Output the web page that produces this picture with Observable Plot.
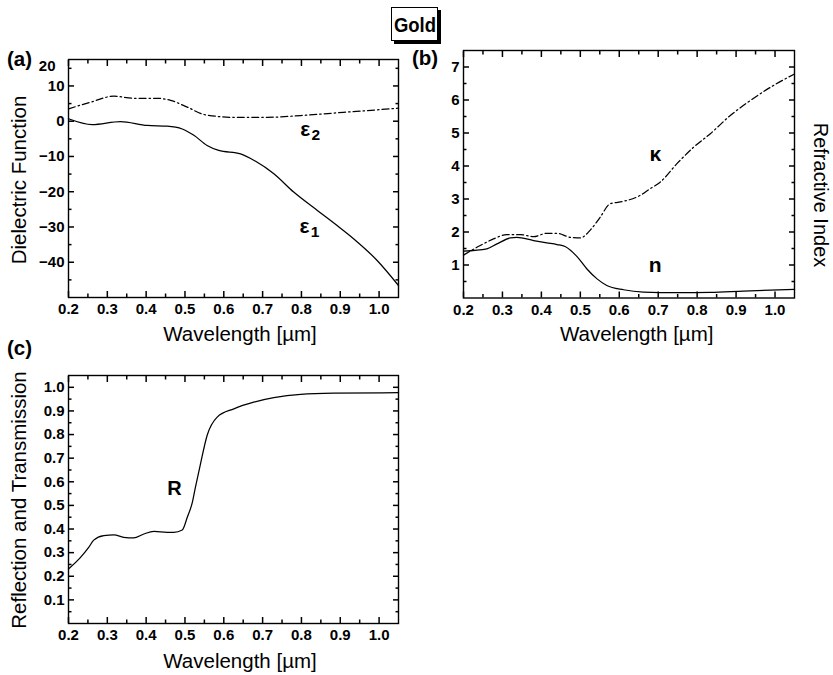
<!DOCTYPE html>
<html><head><meta charset="utf-8">
<script src="https://cdn.jsdelivr.net/npm/d3@7"></script>
<script src="https://cdn.jsdelivr.net/npm/@observablehq/plot@0.6"></script>
<style>
body{margin:0;background:#fff;}
#wrap{position:relative;width:833px;height:675px;overflow:hidden;background:#fff;font-family:"Liberation Sans",Arial,Helvetica,sans-serif;color:#000;}
#wrap svg{position:absolute;}
.lbl{position:absolute;white-space:nowrap;line-height:1;}
</style></head><body><div id="wrap"></div>
<script>
// ---------- texts ----------
const title = "Gold";
const xLabel = "Wavelength [µm]";
const yLabelA = "Dielectric Function";
const yLabelB = "Refractive Index";
const yLabelC = "Reflection and Transmission";
const panelLetters = ["(a)", "(b)", "(c)"];

// ---------- ticks ----------
const wlDomain = [0.2, 1.05];
const wlTicks = [0.2, 0.3, 0.4, 0.5, 0.6, 0.7, 0.8, 0.9, 1.0];
const wlMinor = [0.25, 0.35, 0.45, 0.55, 0.65, 0.75, 0.85, 0.95];
const epsDomain = [-50, 17.5];
const epsTicks = [-40, -30, -20, -10, 0, 10];
const epsMinor = [-45, -35, -25, -15, -5, 5, 15];
const epsTopLabel = "20";
const nkDomain = [0, 7.5];
const nkTicks = [1, 2, 3, 4, 5, 6, 7];
const nkMinor = [0.5, 1.5, 2.5, 3.5, 4.5, 5.5, 6.5];
const rDomain = [0, 1.05];
const rTicks = [0.1, 0.2, 0.3, 0.4, 0.5, 0.6, 0.7, 0.8, 0.9, 1.0];
const rMinor = [0.05, 0.15, 0.25, 0.35, 0.45, 0.55, 0.65, 0.75, 0.85, 0.95];

// ---------- data: [wavelength µm, value] ----------
const eps1 = [[0.2,0.7],[0.261,-0.95],[0.334,-0.1],[0.403,-1.2],[0.454,-1.4],[0.493,-2.2],[0.523,-4.0],[0.557,-6.9],[0.587,-8.3],[0.643,-9.25],[0.681,-11.3],[0.729,-14.9],[0.780,-20.1],[0.841,-25.3],[0.892,-29.6],[0.935,-33.4],[0.995,-39.5],[1.05,-46.6]];
const eps2 = [[0.2,3.5],[0.257,5.4],[0.317,7.1],[0.368,6.5],[0.428,6.5],[0.463,5.9],[0.506,4.0],[0.549,1.9],[0.626,1.1],[0.712,1.1],[0.798,1.6],[0.883,2.3],[0.969,3.0],[1.05,3.7]];
const nIdx = [[0.2,1.42],[0.26,1.49],[0.286,1.64],[0.32,1.82],[0.337,1.84],[0.38,1.74],[0.414,1.67],[0.44,1.62],[0.461,1.56],[0.491,1.26],[0.517,0.88],[0.543,0.58],[0.568,0.38],[0.611,0.25],[0.662,0.18],[0.748,0.16],[0.834,0.17],[0.919,0.21],[1.05,0.26]];
const kIdx = [[0.2,1.3],[0.243,1.59],[0.277,1.79],[0.311,1.92],[0.346,1.92],[0.38,1.86],[0.414,1.96],[0.44,1.96],[0.474,1.84],[0.5,1.82],[0.525,2.05],[0.551,2.45],[0.576,2.85],[0.611,2.93],[0.654,3.11],[0.679,3.31],[0.705,3.51],[0.748,4.07],[0.791,4.57],[0.834,4.98],[0.885,5.53],[0.936,5.98],[0.996,6.44],[1.05,6.79]];
const refl = [[0.2,0.231],[0.231,0.28],[0.252,0.322],[0.265,0.353],[0.291,0.372],[0.317,0.375],[0.342,0.365],[0.368,0.362],[0.394,0.379],[0.42,0.39],[0.454,0.386],[0.471,0.386],[0.493,0.396],[0.506,0.45],[0.519,0.513],[0.527,0.577],[0.54,0.676],[0.557,0.796],[0.583,0.874],[0.626,0.909],[0.677,0.937],[0.729,0.956],[0.798,0.97],[0.883,0.975],[1.05,0.977]];

// curve labels (data coordinates)
const labelsA = [{x:0.81, y:-2.2, name:"ε", sub:"2"}, {x:0.808, y:-29.7, name:"ε", sub:"1"}];
const labelsB = [{x:0.693, y:4.36, name:"κ"}, {x:0.692, y:0.98, name:"n"}];
const labelsC = [{x:0.473, y:0.572, name:"R"}];

// ---------- drawing ----------
const wrap = document.getElementById("wrap");
const fontFamily = '"Liberation Sans", Arial, Helvetica, sans-serif';
const fmt1 = d3.format(".1f");
const fmtInt = d3.format("d");
const blank = () => "";
const dashDot = "7,3,1.5,3";
const lw = 1.25;
const tickW = 1.5;

function framedPlot({left, top, width, height, margin, yDomain, yTicks, yMinor, yFormat, marks}) {
  const [mt, mr, mb, ml] = margin;
  const major = 6, minor = 3.5;
  const tk = {tickSize: -major, strokeWidth: tickW, stroke: "black", label: null, tickFormat: blank};
  const tm = {tickSize: -minor, strokeWidth: tickW, stroke: "black", label: null, tickFormat: blank};
  const p = Plot.plot({
    width, height, marginTop: mt, marginRight: mr, marginBottom: mb, marginLeft: ml,
    style: {fontFamily, fontSize: "15px", fontWeight: "bold", background: "transparent", overflow: "visible", color: "#000"},
    x: {domain: wlDomain},
    y: {domain: yDomain},
    marks: [
      Plot.frame({strokeWidth: 1.4}),
      // inward frame ticks on all four sides
      Plot.axisX({...tk, anchor: "top", ticks: wlTicks}),
      Plot.axisX({...tm, anchor: "top", ticks: wlMinor}),
      Plot.axisX({...tm, anchor: "bottom", ticks: wlMinor}),
      Plot.axisY({...tk, anchor: "right", ticks: yTicks}),
      Plot.axisY({...tm, anchor: "right", ticks: yMinor}),
      Plot.axisY({...tm, anchor: "left", ticks: yMinor}),
      // labelled ticks
      Plot.axisX({anchor: "bottom", ticks: wlTicks, tickSize: -major, tickPadding: major + 6, strokeWidth: tickW, stroke: "black", tickFormat: fmt1, label: null}),
      Plot.axisY({anchor: "left", ticks: yTicks, tickSize: -major, tickPadding: major + 4, strokeWidth: tickW, stroke: "black", tickFormat: yFormat, label: null}),
      ...marks
    ]
  });
  p.style.left = left + "px";
  p.style.top = top + "px";
  wrap.appendChild(p);
}

const px = d => d[0], py = d => d[1];

framedPlot({
  left: 0, top: 0, width: 410, height: 345, margin: [59, 12, 48, 68],
  yDomain: epsDomain, yTicks: epsTicks, yMinor: epsMinor, yFormat: fmtInt,
  marks: [
    Plot.text([epsTopLabel], {frameAnchor: "top-left", text: d => d, textAnchor: "end", dx: -13, dy: 1}),
    Plot.line(eps1, {x: px, y: py, curve: "monotone-x", strokeWidth: lw}),
    Plot.line(eps2, {x: px, y: py, curve: "monotone-x", strokeWidth: lw, strokeDasharray: dashDot}),
    Plot.text(labelsA, {x: "x", y: "y", text: "name", fontSize: 21}),
    Plot.text(labelsA, {x: "x", y: "y", text: "sub", fontSize: 15.5, dx: 10.5, dy: 6.5})
  ]
});

framedPlot({
  left: 410, top: 0, width: 423, height: 345, margin: [50, 39, 47.5, 53],
  yDomain: nkDomain, yTicks: nkTicks, yMinor: nkMinor, yFormat: fmtInt,
  marks: [
    Plot.line(nIdx, {x: px, y: py, curve: "monotone-x", strokeWidth: lw}),
    Plot.line(kIdx, {x: px, y: py, curve: "monotone-x", strokeWidth: lw, strokeDasharray: dashDot}),
    Plot.text(labelsB, {x: "x", y: "y", text: "name", fontSize: 21})
  ]
});

framedPlot({
  left: 0, top: 345, width: 410, height: 330, margin: [30, 12, 52, 68],
  yDomain: rDomain, yTicks: rTicks, yMinor: rMinor, yFormat: fmt1,
  marks: [
    Plot.line(refl, {x: px, y: py, curve: "monotone-x", strokeWidth: lw}),
    Plot.text(labelsC, {x: "x", y: "y", text: "name", fontSize: 20})
  ]
});

// ---------- HTML labels: title, panel letters, axis titles ----------
const ASC = 0.8465; // baseline offset for line-height:1 in Liberation Sans
function label(text, {x, y, size, bold = false, anchor = "start", rotate = 0}) {
  const d = document.createElement("div");
  d.className = "lbl";
  d.textContent = text;
  d.style.fontSize = size + "px";
  if (bold) d.style.fontWeight = "bold";
  if (rotate) {
    // (x, y) = point on the baseline at the text's centre
    const off = (ASC - 0.5) * size;
    const cx = x + (rotate < 0 ? -off : off);
    d.style.left = cx + "px";
    d.style.top = y + "px";
    d.style.transform = `translate(-50%,-50%) rotate(${rotate}deg)`;
  } else {
    d.style.left = x + "px";
    d.style.top = (y - ASC * size) + "px";
    if (anchor === "middle") d.style.transform = "translateX(-50%)";
  }
  wrap.appendChild(d);
  return d;
}

// title box with drop shadow
const box = document.createElement("div");
box.style.cssText = "position:absolute;left:391px;top:7px;width:47px;height:34px;box-sizing:border-box;background:#fff;border:1px solid #000;box-shadow:3px 3px 0 #000;";
wrap.appendChild(box);
const t = label(title, {x: 414.5, y: 31.5, size: 21, bold: true});
t.style.transform = "translateX(-50%) scaleX(0.88)";

const letterPos = [[7, 66], [412, 65], [7, 355]];
panelLetters.forEach((s, i) => label(s, {x: letterPos[i][0], y: letterPos[i][1], size: 20.5, bold: true}));

const axisFont = 20.5;
[[240, 341.7], [636.7, 341.7], [240, 668.3]].forEach(([x, y]) => label(xLabel, {x, y, size: axisFont, anchor: "middle"}));
label(yLabelA, {x: 26.5, y: 180, size: axisFont, rotate: -90});
label(yLabelC, {x: 26.5, y: 500, size: axisFont, rotate: -90});
label(yLabelB, {x: 814, y: 195, size: 20, rotate: 90});
</script>
</body></html>
